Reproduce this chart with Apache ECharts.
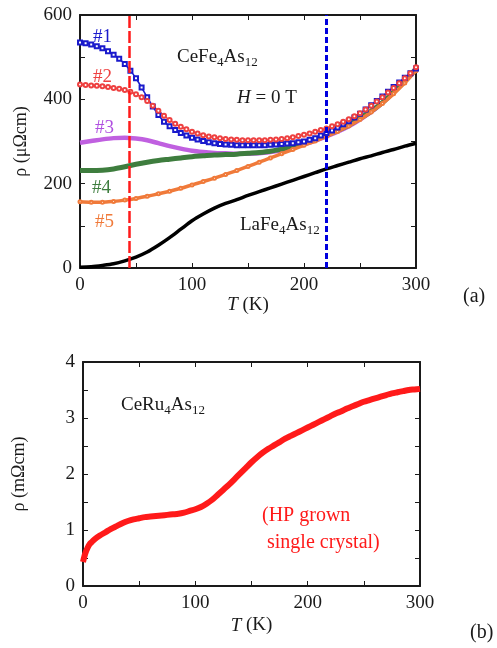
<!DOCTYPE html>
<html>
<head>
<meta charset="utf-8">
<script src="https://cdn.jsdelivr.net/npm/echarts@6/dist/echarts.min.js"></script>
<style>
  html, body { margin: 0; padding: 0; background: #fff; }
  #chart { width: 497px; height: 648px; }
</style>
</head>
<body>
<div id="chart"></div>
<script>
// (a) CeFe4As12 samples, temperatures in K
var temps10 = [0, 10, 20, 30, 40, 50, 60, 70, 80, 90, 100, 110, 120, 130, 140, 150,
  160, 170, 180, 190, 200, 210, 220, 230, 240, 250, 260, 270, 280, 290, 300];
var temps5 = [0, 5, 10, 15, 20, 25, 30, 35, 40, 45, 50, 55, 60, 65, 70, 75, 80, 85, 90, 95,
  100, 105, 110, 115, 120, 125, 130, 135, 140, 145, 150, 155, 160, 165, 170, 175, 180, 185,
  190, 195, 200, 205, 210, 215, 220, 225, 230, 235, 240, 245, 250, 255, 260, 265, 270, 275,
  280, 285, 290, 295, 300];

var rho1 = [535, 533, 530, 526, 521, 514, 506, 496, 484, 468, 450, 428, 405, 383, 363, 347,
  336, 327, 320, 314, 309, 305, 301, 298, 296, 294, 293, 292, 291, 291, 291, 291, 291, 291,
  292, 293, 294, 295, 296, 298, 300, 304, 308, 314, 320, 326, 333, 341, 348, 357, 366, 376,
  386, 396, 407, 418, 429, 440, 451, 462, 473];
var rho2 = [435, 434, 433, 432, 431, 429, 427, 425, 422, 418, 412, 405, 396, 385, 373, 361,
  351, 342, 335, 329, 323, 319, 315, 312, 310, 308, 306, 305, 304, 303, 303, 303, 303, 303,
  304, 305, 306, 308, 310, 313, 316, 319, 323, 327, 331, 336, 341, 347, 353, 360, 367, 376,
  385, 395, 405, 416, 427, 438, 450, 462, 476];
var rho3 = [297, 301, 305, 308, 309, 307, 303, 296, 289, 283, 278, 275, 273, 272, 271, 271,
  272, 275, 279, 285, 293, 302, 312, 323, 336, 352, 370, 392, 417, 443, 474];
var rho4 = [231, 231, 232, 235, 240, 246, 251, 255, 258, 261, 264, 266, 268, 269, 270, 272,
  274, 277, 282, 288, 296, 305, 315, 326, 339, 355, 372, 392, 417, 443, 472];
var rho5 = [157, 156, 156, 158, 161, 165, 170, 176, 182, 189, 197, 205, 213, 222, 231, 241,
  251, 261, 271, 281, 291, 301, 312, 324, 337, 352, 370, 390, 413, 439, 468];
var rhoLa = [2, 3, 6, 10, 17, 26, 38, 54, 72, 92, 112, 128, 142, 153, 162, 172,
  181, 190, 199, 208, 217, 226, 235, 243, 251, 259, 266, 274, 281, 289, 296];

// marked temperatures (dashed lines)
var markT = [44, 220];

// (b) CeRu4As12, mOhm cm
var tempsB = [0, 2, 4, 6, 8, 10, 15, 20, 25, 30, 35, 40, 45, 50, 55, 60, 65, 70, 75, 80, 85,
  90, 95, 100, 105, 110, 115, 120, 125, 130, 135, 140, 145, 150, 155, 160, 165, 170, 175, 180,
  185, 190, 195, 200, 205, 210, 215, 220, 225, 230, 235, 240, 245, 250, 255, 260, 265, 270,
  275, 280, 285, 290, 295, 300];
var rhoRu = [0.43, 0.58, 0.68, 0.75, 0.79, 0.83, 0.90, 0.96, 1.02, 1.07, 1.12, 1.16, 1.19,
  1.21, 1.23, 1.24, 1.25, 1.26, 1.27, 1.28, 1.29, 1.31, 1.34, 1.37, 1.41, 1.47, 1.54, 1.63,
  1.72, 1.81, 1.91, 2.01, 2.11, 2.21, 2.30, 2.38, 2.45, 2.51, 2.57, 2.63, 2.68, 2.73, 2.78,
  2.83, 2.88, 2.93, 2.98, 3.03, 3.08, 3.12, 3.17, 3.21, 3.25, 3.29, 3.32, 3.35, 3.38, 3.41,
  3.44, 3.46, 3.48, 3.50, 3.51, 3.52];

function pairs(xs, ys) {
  return xs.map(function (x, i) { return [x, ys[i]]; });
}

var FONT = 'Liberation Serif';
var INK = '#1a1a1a';

function xAx(gi, pos, showLabels, name, gap) {
  return {
    type: 'value', gridIndex: gi, position: pos, min: 0, max: 300, interval: 50,
    axisLine: { show: true, onZero: false, lineStyle: { color: INK, width: 2 } },
    axisTick: { show: true, inside: true, length: 5, lineStyle: { color: INK, width: 1 } },
    axisLabel: {
      show: showLabels, margin: 8, color: INK, fontFamily: FONT, fontSize: 19,
      formatter: function (v) { return v % 100 === 0 ? String(v) : ''; }
    },
    splitLine: { show: false },
    name: name || '', nameLocation: 'middle', nameGap: gap || 30,
    nameTextStyle: {
      color: INK, fontFamily: FONT, fontSize: 19,
      rich: { i: { fontStyle: 'italic', fontFamily: FONT, fontSize: 19, color: INK } }
    }
  };
}

function yAx(gi, pos, max, step, showLabels, name, gap) {
  return {
    type: 'value', gridIndex: gi, position: pos, min: 0, max: max, interval: step,
    axisLine: { show: true, onZero: false, lineStyle: { color: INK, width: 2 } },
    axisTick: { show: true, inside: true, length: 5, lineStyle: { color: INK, width: 1 } },
    axisLabel: {
      show: showLabels, margin: 8, color: INK, fontFamily: FONT, fontSize: 19,
      formatter: function (v) {
        var k = Math.round(v / step);
        return k % 2 === 0 ? String(Math.round(v * 100) / 100) : '';
      }
    },
    splitLine: { show: false },
    name: name || '', nameLocation: 'middle', nameGap: gap || 50, nameRotate: 90,
    nameTextStyle: { color: INK, fontFamily: FONT, fontSize: 18 }
  };
}

// text with subscripts: parts are [text, kind] with kind 'n', 's' (subscript) or 'i' (italic)
var measureCtx = document.createElement('canvas').getContext('2d');
function fontFor(kind) {
  if (kind === 's') return '13px "' + FONT + '"';
  if (kind === 'i') return 'italic 19px "' + FONT + '"';
  return '19px "' + FONT + '"';
}
function formula(x, y, parts, color) {
  var out = [];
  var cx = x;
  parts.forEach(function (p) {
    var f = fontFor(p[1]);
    measureCtx.font = f;
    out.push({
      type: 'text', x: cx, y: p[1] === 's' ? y + 6 : y,
      style: { text: p[0], fill: color || INK, font: f, textVerticalAlign: 'middle' }
    });
    cx += measureCtx.measureText(p[0]).width;
  });
  return out;
}

function label(x, y, txt, color, size) {
  return {
    type: 'text', x: x, y: y,
    style: { text: txt, fill: color, fontFamily: FONT, fontSize: size || 19, textVerticalAlign: 'middle' }
  };
}

var texts = [
  label(93, 37, '#1', '#1a1acc'),
  label(93, 77, '#2', '#ee4040'),
  label(95, 128, '#3', '#b050e0'),
  label(92, 188, '#4', '#3e7d3e'),
  label(95, 222, '#5', '#f07a3a'),
  label(262, 516, '(HP grown', '#ff1a1a', 20),
  label(267, 543, 'single crystal)', '#ff1a1a', 20),
  label(463, 297, '(a)', INK, 20),
  label(470, 633, '(b)', INK, 20)
]
  .concat(formula(177, 57, [['CeFe', 'n'], ['4', 's'], ['As', 'n'], ['12', 's']]))
  .concat(formula(237, 98, [['H', 'i'], [' = 0 T', 'n']]))
  .concat(formula(240, 225, [['LaFe', 'n'], ['4', 's'], ['As', 'n'], ['12', 's']]))
  .concat(formula(121, 405, [['CeRu', 'n'], ['4', 's'], ['As', 'n'], ['12', 's']]));

var chart = echarts.init(document.getElementById('chart'));
chart.setOption({
  animation: false,
  backgroundColor: '#fff',
  grid: [
    { left: 80, top: 15, width: 336, height: 253 },
    { left: 83, top: 362, width: 337, height: 224 }
  ],
  xAxis: [
    xAx(0, 'bottom', true, '{i|T} (K)', 27),
    xAx(0, 'top', false),
    xAx(1, 'bottom', true, '{i|T} (K)', 30),
    xAx(1, 'top', false)
  ],
  yAxis: [
    yAx(0, 'left', 600, 100, true, 'ρ (μΩcm)', 50),
    yAx(0, 'right', 600, 100, false),
    yAx(1, 'left', 4, 0.5, true, 'ρ (mΩcm)', 55),
    yAx(1, 'right', 4, 0.5, false)
  ],
  series: [
    {
      name: 'LaFe4As12', type: 'line', xAxisIndex: 0, yAxisIndex: 0,
      data: pairs(temps10, rhoLa), smooth: 0.3, showSymbol: false,
      lineStyle: { color: '#000', width: 3.5 }
    },
    {
      name: '#3', type: 'line', xAxisIndex: 0, yAxisIndex: 0,
      data: pairs(temps10, rho3), smooth: 0.3, showSymbol: false,
      lineStyle: { color: '#c060e0', width: 4.5 }
    },
    {
      name: '#4', type: 'line', xAxisIndex: 0, yAxisIndex: 0,
      data: pairs(temps10, rho4), smooth: 0.3, showSymbol: false,
      lineStyle: { color: '#3e7d3e', width: 5 }
    },
    {
      name: '#5', type: 'line', xAxisIndex: 0, yAxisIndex: 0,
      data: pairs(temps10, rho5), smooth: 0.3, symbol: 'emptyCircle', symbolSize: 3,
      itemStyle: { color: '#f07a3a', borderWidth: 1 },
      lineStyle: { color: '#f07a3a', width: 3.5 }
    },
    {
      name: '#1', type: 'line', xAxisIndex: 0, yAxisIndex: 0,
      data: pairs(temps5, rho1), smooth: 0.3, symbol: 'emptyRect', symbolSize: 4,
      itemStyle: { color: '#1a1acc', borderWidth: 1.2 },
      lineStyle: { color: '#1a1acc', width: 1.5 }
    },
    {
      name: '#2', type: 'line', xAxisIndex: 0, yAxisIndex: 0,
      data: pairs(temps5, rho2), smooth: 0.3, symbol: 'emptyCircle', symbolSize: 4,
      itemStyle: { color: '#ee4040', borderWidth: 1.2 },
      lineStyle: { color: '#ee4040', width: 1.5 },
      markLine: {
        silent: true, symbol: 'none', label: { show: false },
        data: [
          { xAxis: markT[0], lineStyle: { color: '#ff1a1a', width: 2.5, type: [12, 3] } },
          { xAxis: markT[1], lineStyle: { color: '#0000dd', width: 3, type: [6, 3] } }
        ]
      }
    },
    {
      name: 'CeRu4As12', type: 'line', xAxisIndex: 2, yAxisIndex: 2,
      data: pairs(tempsB, rhoRu), smooth: 0.3, showSymbol: false,
      lineStyle: { color: '#ff1a1a', width: 6 }
    }
  ],
  graphic: texts
});
</script>
</body>
</html>
